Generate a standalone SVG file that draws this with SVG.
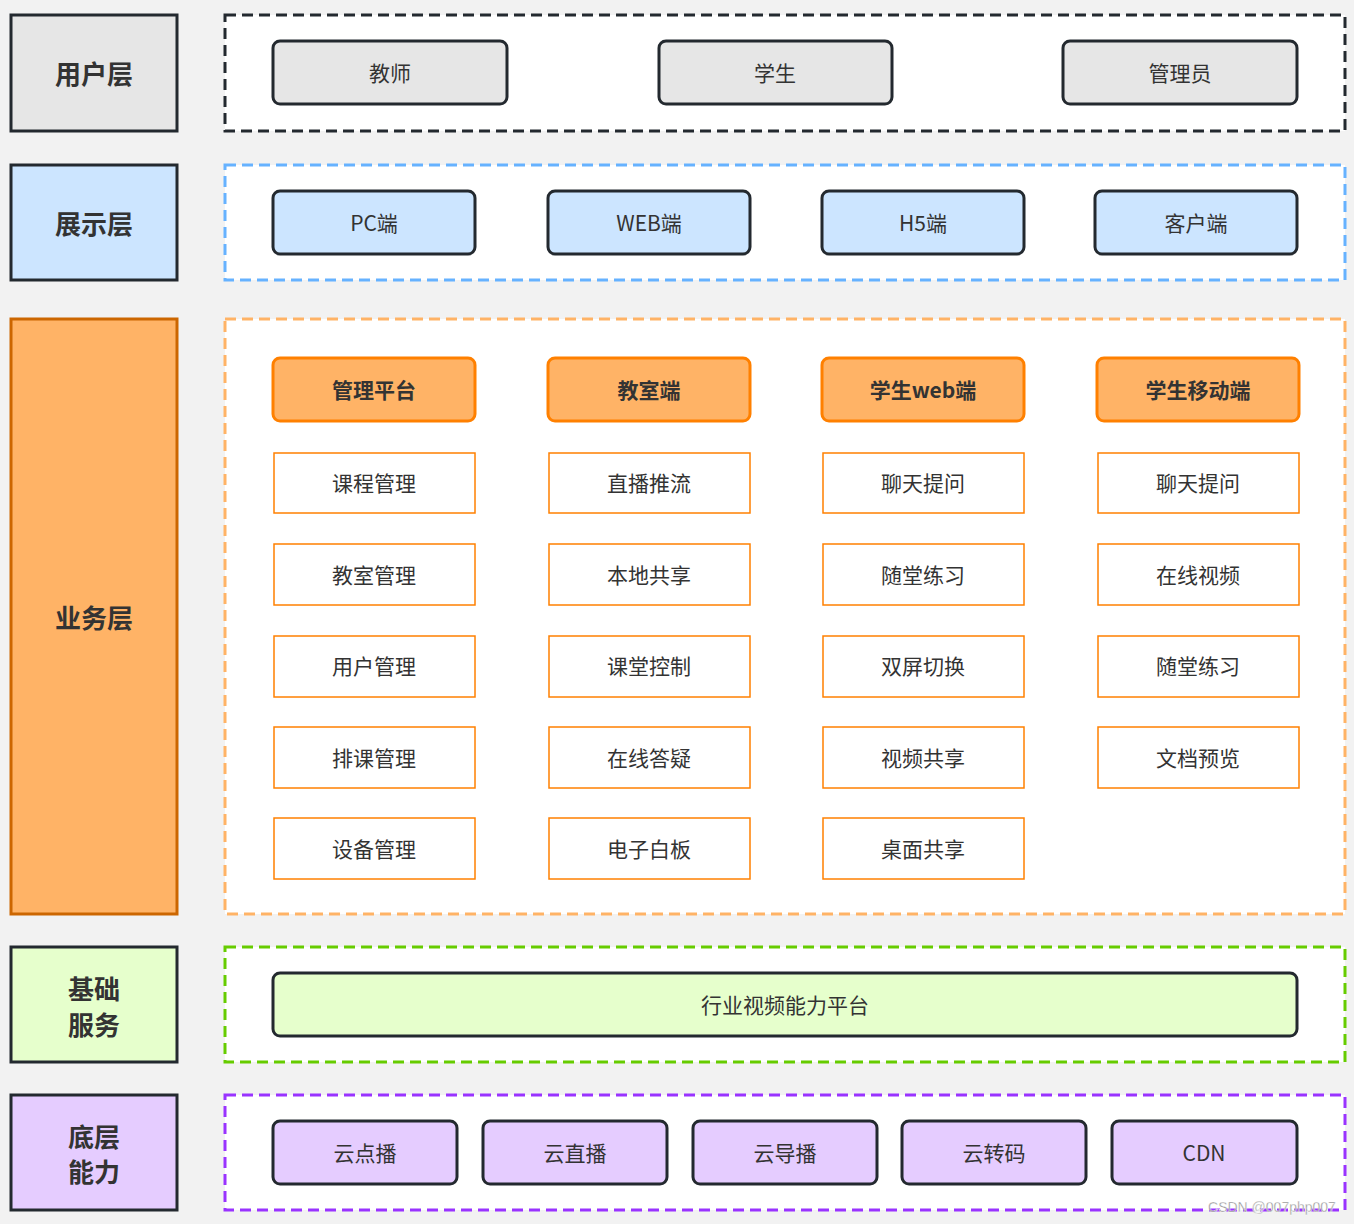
<svg xmlns="http://www.w3.org/2000/svg" width="1354" height="1224" viewBox="0 0 1354 1224">
<style>
text{font-family:"Noto Sans CJK SC","Noto Sans",sans-serif;fill:#333;text-anchor:middle;dominant-baseline:central}
.lbl{stroke:#23292f;stroke-width:3}
.lt{font-size:26px;font-weight:bold}
.cont{fill:#fff;stroke-width:3;stroke-dasharray:11 6}
.n{stroke:#23292f;stroke-width:3}
.t{font-size:21px}
.hd{fill:#ffb366;stroke:#ff8000;stroke-width:3}
.sb{fill:#fff;stroke:#ff8000;stroke-width:1.5}
</style>
<rect width="1354" height="1224" fill="#f2f2f2"/>
<g id="layer-user">
<rect class="lbl" x="11" y="15" width="166" height="116" fill="#e6e6e6"/>
<text class="lt" x="94" y="72">用户层</text>
</g>
<g id="layer-present">
<rect class="lbl" x="11" y="165" width="166" height="115" fill="#cce5ff"/>
<text class="lt" x="94" y="222">展示层</text>
</g>
<g id="layer-biz">
<rect x="11" y="319" width="166" height="595" fill="#ffb366" stroke="#cc6600" stroke-width="3"/>
<text class="lt" x="94" y="616">业务层</text>
</g>
<g id="layer-base">
<rect class="lbl" x="11" y="947" width="166" height="115" fill="#e6ffcc"/>
<text class="lt" x="94" y="987">基础</text>
<text class="lt" x="94" y="1023">服务</text>
</g>
<g id="layer-bottom">
<rect class="lbl" x="11" y="1095" width="166" height="115" fill="#e5ccff"/>
<text class="lt" x="94" y="1135">底层</text>
<text class="lt" x="94" y="1170">能力</text>
</g>
<g id="containers">
<rect class="cont" x="225" y="15" width="1120" height="116" stroke="#23292f"/>
<rect class="cont" x="225" y="165" width="1120" height="115" stroke="#66b2ff"/>
<rect class="cont" x="225" y="319" width="1120" height="595" stroke="#ffb366"/>
<rect class="cont" x="225" y="947" width="1120" height="115" stroke="#66cc00"/>
<rect class="cont" x="225" y="1095" width="1120" height="115" stroke="#9933ff"/>
</g>
<g id="user-nodes">
<g id="n-teacher"><rect class="n" x="273" y="41" width="234" height="63" rx="7" fill="#e6e6e6"/><text class="t" x="390" y="72">教师</text></g>
<g id="n-student"><rect class="n" x="659" y="41" width="233" height="63" rx="7" fill="#e6e6e6"/><text class="t" x="775" y="72">学生</text></g>
<g id="n-admin"><rect class="n" x="1063" y="41" width="234" height="63" rx="7" fill="#e6e6e6"/><text class="t" x="1180" y="72">管理员</text></g>
</g>
<g id="present-nodes">
<g id="n-pc"><rect class="n" x="273" y="191" width="202" height="63" rx="7" fill="#cce5ff"/><text class="t" x="374" y="222">PC端</text></g>
<g id="n-web"><rect class="n" x="548" y="191" width="202" height="63" rx="7" fill="#cce5ff"/><text class="t" x="649" y="222">WEB端</text></g>
<g id="n-h5"><rect class="n" x="822" y="191" width="202" height="63" rx="7" fill="#cce5ff"/><text class="t" x="923" y="222">H5端</text></g>
<g id="n-client"><rect class="n" x="1095" y="191" width="202" height="63" rx="7" fill="#cce5ff"/><text class="t" x="1196" y="222">客户端</text></g>
</g>
<g id="biz-headers">
<g id="h-admin"><rect class="hd" x="273" y="358" width="202" height="63" rx="7"/><text class="t" x="374" y="389" font-weight="bold">管理平台</text></g>
<g id="h-class"><rect class="hd" x="548" y="358" width="202" height="63" rx="7"/><text class="t" x="649" y="389" font-weight="bold">教室端</text></g>
<g id="h-sweb"><rect class="hd" x="822" y="358" width="202" height="63" rx="7"/><text class="t" x="923" y="389" font-weight="bold">学生web端</text></g>
<g id="h-smob"><rect class="hd" x="1097" y="358" width="202" height="63" rx="7"/><text class="t" x="1198" y="389" font-weight="bold">学生移动端</text></g>
</g>
<g id="biz-items">
<g id="c1r1"><rect class="sb" x="274" y="453" width="201" height="60"/><text class="t" x="374" y="482">课程管理</text></g>
<g id="c1r2"><rect class="sb" x="274" y="544" width="201" height="61"/><text class="t" x="374" y="574">教室管理</text></g>
<g id="c1r3"><rect class="sb" x="274" y="636" width="201" height="61"/><text class="t" x="374" y="665">用户管理</text></g>
<g id="c1r4"><rect class="sb" x="274" y="727" width="201" height="61"/><text class="t" x="374" y="757">排课管理</text></g>
<g id="c1r5"><rect class="sb" x="274" y="818" width="201" height="61"/><text class="t" x="374" y="848">设备管理</text></g>
<g id="c2r1"><rect class="sb" x="549" y="453" width="201" height="60"/><text class="t" x="649" y="482">直播推流</text></g>
<g id="c2r2"><rect class="sb" x="549" y="544" width="201" height="61"/><text class="t" x="649" y="574">本地共享</text></g>
<g id="c2r3"><rect class="sb" x="549" y="636" width="201" height="61"/><text class="t" x="649" y="665">课堂控制</text></g>
<g id="c2r4"><rect class="sb" x="549" y="727" width="201" height="61"/><text class="t" x="649" y="757">在线答疑</text></g>
<g id="c2r5"><rect class="sb" x="549" y="818" width="201" height="61"/><text class="t" x="649" y="848">电子白板</text></g>
<g id="c3r1"><rect class="sb" x="823" y="453" width="201" height="60"/><text class="t" x="923" y="482">聊天提问</text></g>
<g id="c3r2"><rect class="sb" x="823" y="544" width="201" height="61"/><text class="t" x="923" y="574">随堂练习</text></g>
<g id="c3r3"><rect class="sb" x="823" y="636" width="201" height="61"/><text class="t" x="923" y="665">双屏切换</text></g>
<g id="c3r4"><rect class="sb" x="823" y="727" width="201" height="61"/><text class="t" x="923" y="757">视频共享</text></g>
<g id="c3r5"><rect class="sb" x="823" y="818" width="201" height="61"/><text class="t" x="923" y="848">桌面共享</text></g>
<g id="c4r1"><rect class="sb" x="1098" y="453" width="201" height="60"/><text class="t" x="1198" y="482">聊天提问</text></g>
<g id="c4r2"><rect class="sb" x="1098" y="544" width="201" height="61"/><text class="t" x="1198" y="574">在线视频</text></g>
<g id="c4r3"><rect class="sb" x="1098" y="636" width="201" height="61"/><text class="t" x="1198" y="665">随堂练习</text></g>
<g id="c4r4"><rect class="sb" x="1098" y="727" width="201" height="61"/><text class="t" x="1198" y="757">文档预览</text></g>
</g>
<g id="base-nodes">
<g id="n-platform"><rect class="n" x="273" y="973" width="1024" height="63" rx="7" fill="#e6ffcc"/><text class="t" x="785" y="1004">行业视频能力平台</text></g>
</g>
<g id="bottom-nodes">
<g id="n-vod"><rect class="n" x="273" y="1121" width="184" height="63" rx="7" fill="#e5ccff"/><text class="t" x="365" y="1152">云点播</text></g>
<g id="n-live"><rect class="n" x="483" y="1121" width="184" height="63" rx="7" fill="#e5ccff"/><text class="t" x="575" y="1152">云直播</text></g>
<g id="n-dir"><rect class="n" x="693" y="1121" width="184" height="63" rx="7" fill="#e5ccff"/><text class="t" x="785" y="1152">云导播</text></g>
<g id="n-trans"><rect class="n" x="902" y="1121" width="184" height="63" rx="7" fill="#e5ccff"/><text class="t" x="994" y="1152">云转码</text></g>
<g id="n-cdn"><rect class="n" x="1112" y="1121" width="185" height="63" rx="7" fill="#e5ccff"/><text class="t" x="1204" y="1152">CDN</text></g>
</g>
<g id="connectors"></g>
<text x="1272" y="1207" font-size="14" style="fill:#888;font-family:'Liberation Sans',sans-serif" stroke="#fff" stroke-width="0.4">CSDN @007php007</text>
</svg>
